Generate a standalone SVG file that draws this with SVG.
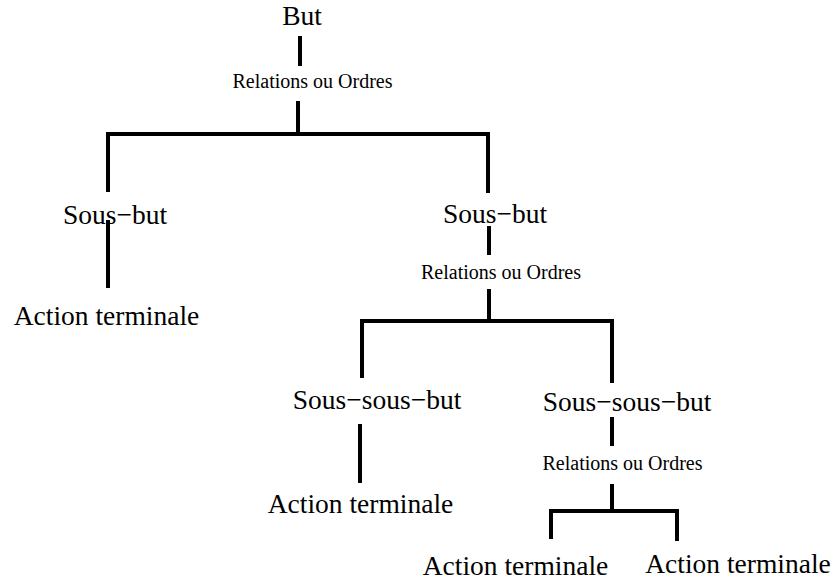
<svg xmlns="http://www.w3.org/2000/svg" width="836" height="581" viewBox="0 0 836 581">
<style>
.bg{fill:#fff}
.ln{stroke:#000;stroke-width:4;fill:none;stroke-linecap:butt;stroke-linejoin:miter}
text{fill:#000;text-anchor:middle}
.t{font-size:27.5px}
.s{font-size:20px}
</style>
<rect class="bg" width="836" height="581"/>
<g id="connectors">
<line class="ln" x1="300" y1="36" x2="300" y2="66"/>
<line class="ln" x1="298" y1="101" x2="298" y2="134"/>
<polyline class="ln" points="108,192 108,134 488,134 488,193"/>
<line class="ln" x1="108" y1="220" x2="108" y2="288"/>
<line class="ln" x1="489" y1="226" x2="489" y2="255"/>
<line class="ln" x1="489" y1="289" x2="489" y2="321"/>
<polyline class="ln" points="362,378 362,321 612,321 612,383"/>
<line class="ln" x1="360" y1="424" x2="360" y2="483"/>
<line class="ln" x1="612" y1="417" x2="612" y2="446"/>
<line class="ln" x1="612" y1="484" x2="612" y2="511"/>
<polyline class="ln" points="551,539 551,511 677,511 677,541"/>
</g>
<g font-family="Liberation Serif, Times New Roman, DejaVu Serif, serif">
<g id="but"><text class="t" x="302" y="25">But</text></g>
<g id="rel1"><text class="s" x="312.5" y="88">Relations ou Ordres</text></g>
<g id="sousbut1"><text class="t" x="115" y="224">Sous−but</text></g>
<g id="action1"><text class="t" x="106.5" y="325">Action terminale</text></g>
<g id="sousbut2"><text class="t" x="495" y="223">Sous−but</text></g>
<g id="rel2"><text class="s" x="501" y="279">Relations ou Ordres</text></g>
<g id="soussousbut1"><text class="t" x="377" y="409">Sous−sous−but</text></g>
<g id="action2"><text class="t" x="360.5" y="513">Action terminale</text></g>
<g id="soussousbut2"><text class="t" x="627" y="411">Sous−sous−but</text></g>
<g id="rel3"><text class="s" x="622.5" y="470">Relations ou Ordres</text></g>
<g id="action3"><text class="t" x="515.5" y="575">Action terminale</text></g>
<g id="action4"><text class="t" x="738" y="573">Action terminale</text></g>
</g>
</svg>
